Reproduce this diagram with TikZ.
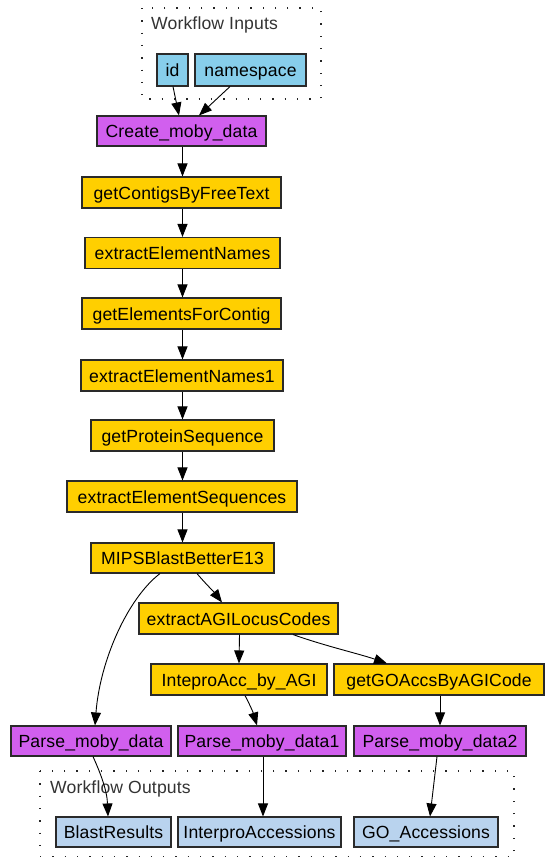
\documentclass[tikz,border=0pt]{standalone}
\usepackage{fontspec}
\setmainfont{Liberation Sans}
\newfontfamily\boxfont[LetterSpace=0.8]{Liberation Sans}
\usetikzlibrary{arrows.meta}
\definecolor{procyellow}{HTML}{FFCF00}
\definecolor{procpurple}{HTML}{D15FEE}
\definecolor{inblue}{HTML}{87CEEB}
\definecolor{outblue}{HTML}{B9D3EE}
\definecolor{bordergray}{HTML}{2A2A2A}
\tikzset{
  box/.style={draw=bordergray, line width=1.1pt, minimum height=31pt, inner sep=0pt, anchor=center,
    text height=14pt, text depth=1pt,
    font=\boxfont\fontsize{17.6}{20}\selectfont},
  service/.style={box, fill=procyellow},
  local/.style={box, fill=procpurple},
  inport/.style={box, fill=inblue, minimum height=32pt},
  outport/.style={box, fill=outblue},
  cluster/.style={line width=1.3pt, dash pattern=on 1.3pt off 11pt, draw=black!85},
  clusterlabel/.style={anchor=west, inner sep=0pt, text=black!80, font=\boxfont\fontsize{17.6}{20}\selectfont},
  edge/.style={line width=0.9pt, -{Triangle[length=13pt,width=10pt]}},
}
\begin{document}
\begin{tikzpicture}[x=1pt, y=-1pt]
\useasboundingbox (0,0) rectangle (555,857);
% clusters
\draw[cluster] (142,8) rectangle (321,99);
\node[clusterlabel] (inlabel) at (151,25) {Workflow Inputs};
\draw[cluster] (40,771) rectangle (514,857);
\node[clusterlabel] (outlabel) at (50,789) {Workflow Outputs};
% inputs
\node[inport, minimum width=31pt] (id) at (172.5,70) {id};
\node[inport, minimum width=111pt] (ns) at (250.5,70) {namespace};
% chain
\node[local, minimum width=169pt, minimum height=30pt] (cmd) at (181.5,131) {Create\_moby\_data};
\node[service, minimum width=199pt] (gcf) at (181.5,192.5) {getContigsByFreeText};
\node[service, minimum width=195pt] (een) at (182.5,253) {extractElementNames};
\node[service, minimum width=199pt] (gefc) at (181.5,313.5) {getElementsForContig};
\node[service, minimum width=202pt] (een1) at (182,375.5) {extractElementNames1};
\node[service, minimum width=183pt] (gps) at (182.5,435.5) {getProteinSequence};
\node[service, minimum width=230pt] (ees) at (182,496.5) {extractElementSequences};
\node[service, minimum width=183pt, minimum height=30pt] (mips) at (182.5,558) {MIPSBlastBetterE13};
\node[service, minimum width=199pt] (agi) at (238.5,618.5) {extractAGILocusCodes};
\node[service, minimum width=176pt] (ipr) at (239,679.5) {InteproAcc\_by\_AGI};
\node[service, minimum width=210pt] (ggo) at (439,679.5) {getGOAccsByAGICode};
\node[local, minimum width=160pt, minimum height=30pt] (pmd) at (91,741) {Parse\_moby\_data};
\node[local, minimum width=168pt, minimum height=30pt] (pmd1) at (262,741) {Parse\_moby\_data1};
\node[local, minimum width=172pt, minimum height=30pt] (pmd2) at (440,741) {Parse\_moby\_data2};
% outputs
\node[outport, minimum width=115pt, minimum height=30pt] (blast) at (113.5,832) {BlastResults};
\node[outport, minimum width=163pt, minimum height=30pt] (iacc) at (259.5,832) {InterproAccessions};
\node[outport, minimum width=144pt, minimum height=30pt] (goacc) at (426,832) {GO\_Accessions};
% edges
\draw[edge] ([xshift=0.5pt]id.south) -- ([xshift=-2.5pt]cmd.north);
\draw[edge] ([xshift=-20.5pt]ns.south) -- ([xshift=17.5pt]cmd.north);
\draw[edge] ([xshift=1pt]cmd.south) -- ([xshift=1pt]gcf.north);
\draw[edge] ([xshift=1pt]gcf.south) -- (een.north);
\draw[edge] (een.south) -- ([xshift=1pt]gefc.north);
\draw[edge] ([xshift=1pt]gefc.south) -- ([xshift=0.5pt]een1.north);
\draw[edge] ([xshift=0.5pt]een1.south) -- (gps.north);
\draw[edge] (gps.south) -- ([xshift=0.5pt]ees.north);
\draw[edge] ([xshift=0.5pt]ees.south) -- (mips.north);
\draw[edge] ([xshift=14.5pt]mips.south) .. controls (204,582) and (214,592) .. ([xshift=-16.5pt]agi.north);
\draw[edge] ([xshift=-22.5pt]mips.south) .. controls (128,598) and (100,660) .. ([xshift=4pt]pmd.north);
\draw[edge] ([xshift=1pt]agi.south) -- (ipr.north);
\draw[edge] ([xshift=54.5pt]agi.south) .. controls (325,646) and (360,654) .. ([xshift=-52pt]ggo.north);
\draw[edge] ([xshift=6pt]ipr.south) .. controls (249,703) and (253,712) .. ([xshift=-5pt]pmd1.north);
\draw[edge] ([xshift=1pt]ggo.south) -- (pmd2.north);
\draw[edge] ([xshift=2pt]pmd.south) .. controls (100,772) and (107,790) .. ([xshift=-5.5pt]blast.north);
\draw[edge] ([xshift=1pt]pmd1.south) -- ([xshift=3.5pt]iacc.north);
\draw[edge] ([xshift=-3pt]pmd2.south) -- ([xshift=4pt]goacc.north);
\end{tikzpicture}
\end{document}
